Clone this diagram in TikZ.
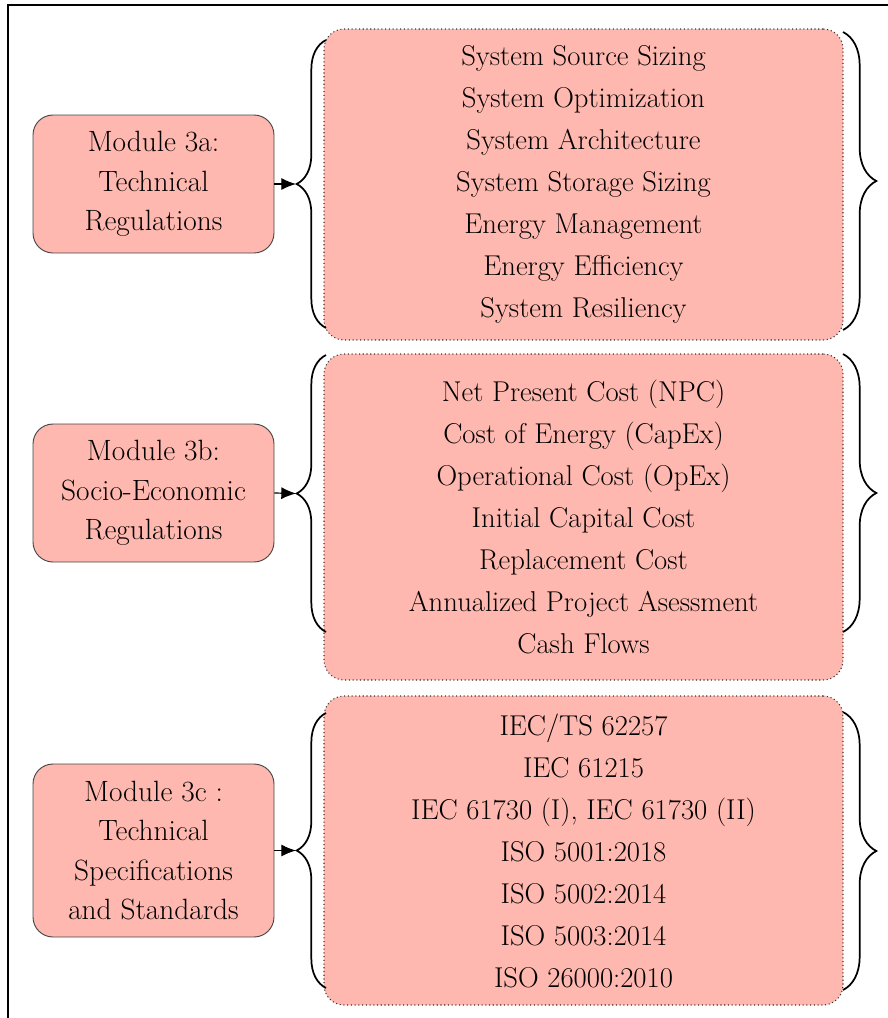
\documentclass[tikz,border=0pt]{standalone}
\usepackage{tikz}
\usetikzlibrary{decorations.pathreplacing,arrows.meta}
\definecolor{melon}{RGB}{255, 184, 175}
\definecolor{charcoal}{RGB}{70, 70, 70}
\tikzset{
  modbox/.style  ={draw=charcoal, line width=0.7pt, fill=melon, rounded corners=15pt, align=center,
                   minimum width=180.75pt, inner sep=0pt, font=\fontsize{22}{29.6}\selectfont},
  listbox/.style ={draw=black!80, line width=0.8pt, dotted, fill=melon, rounded corners=15pt, align=center,
                   minimum width=389.25pt, inner sep=0pt, font=\fontsize{21.5}{31.5}\selectfont},
  lbrace/.style  ={decorate, decoration={brace, amplitude=22pt}, line width=1.3pt},
  rbrace/.style  ={decorate, decoration={brace, amplitude=25pt}, line width=1.3pt},
  feed/.style    ={-{Latex[length=11pt, width=9pt]}, line width=0.9pt},
}

\begin{document}
\begin{tikzpicture}[x=0.75pt, y=-0.75pt]
        \useasboundingbox (0,0) rectangle (888,1018);
        \draw[line width=0.8pt] (8,1040) -- (8,5) -- (900,5);

        % modules
        \node[modbox, minimum height=103.5pt]  (m3a) at (153.5, 184.0) {Module 3a:\\ Technical\\ Regulations};
        \node[modbox, minimum height=103.5pt]  (m3b) at (153.5, 493.0) {Module 3b:\\ Socio-Economic\\ Regulations};
        \node[modbox, minimum height=129.75pt] (m3c) at (153.5, 850.5) {Module 3c :\\ Technical\\ Specifications\\ and Standards};

        % lists
        \node[listbox, minimum height=233.25pt] (techlist) at (583.5, 184.5)
            {System Source Sizing\\ System Optimization\\ System Architecture\\ System Storage Sizing\\
             Energy Management\\ Energy Efficiency\\ System Resiliency};
        \node[listbox, minimum height=244.5pt]  (ecolist)  at (583.5, 517.0)
            {Net Present Cost (NPC)\\ Cost of Energy (CapEx)\\ Operational Cost (OpEx)\\ Initial Capital Cost\\
             Replacement Cost\\ Annualized Project Asessment\\ Cash Flows};
        \node[listbox, minimum height=231.75pt] (stdlist)  at (583.5, 850.5)
            {IEC/TS 62257\\ IEC 61215\\ IEC 61730 (I), IEC 61730 (II)\\ ISO 5001:2018\\
             ISO 5002:2014\\ ISO 5003:2014\\ ISO 26000:2010};

        % brace ends
        \coordinate (la1) at (326, 328); \coordinate (la2) at (326,  40);
        \coordinate (lb1) at (326, 632); \coordinate (lb2) at (326, 355);
        \coordinate (lc1) at (326, 988); \coordinate (lc2) at (326, 713);
        \coordinate (ra1) at (843,  32); \coordinate (ra2) at (843, 330);
        \coordinate (rb1) at (843, 354); \coordinate (rb2) at (843, 632);
        \coordinate (rc1) at (843, 712); \coordinate (rc2) at (843, 990);
        \coordinate (tipa) at (296, 184);
        \coordinate (tipb) at (296, 493.5);
        \coordinate (tipc) at (296, 850.5);

        \draw[lbrace] (la1) -- (la2);
        \draw[lbrace] (lb1) -- (lb2);
        \draw[lbrace] (lc1) -- (lc2);
        \draw[rbrace] (ra1) -- (ra2);
        \draw[rbrace] (rb1) -- (rb2);
        \draw[rbrace] (rc1) -- (rc2);

        \draw[feed] (m3a.east) -- (tipa);
        \draw[feed] (m3b.east) -- (tipb);
        \draw[feed] (m3c.east) -- (tipc);
\end{tikzpicture}
\end{document}
